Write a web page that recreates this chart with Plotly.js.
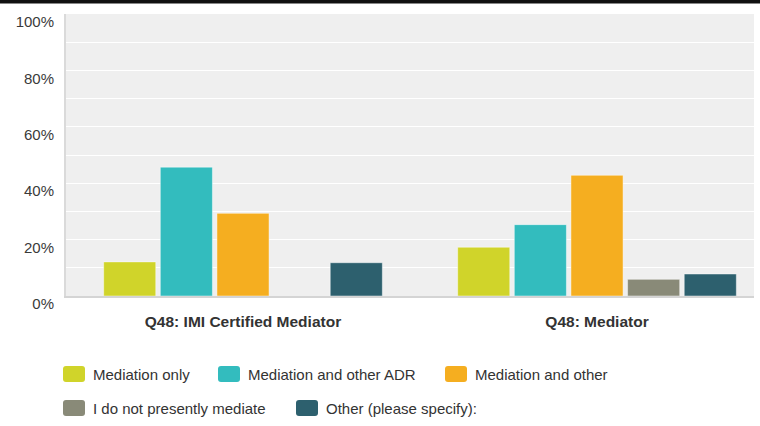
<!DOCTYPE html>
<html>
<head>
<meta charset="utf-8">
<script src="https://cdn.plot.ly/plotly-3.0.1.min.js"></script>
<style>
  html, body { margin: 0; padding: 0; background: #ffffff; }
  #chart { width: 760px; height: 426px; }
</style>
</head>
<body>
<div id="chart"></div>
<script>
// ---- Data ----
const categories = ["Q48: IMI Certified Mediator", "Q48: Mediator"];
const seriesNames = [
  "Mediation only",
  "Mediation and other ADR",
  "Mediation and other",
  "I do not presently mediate",
  "Other (please specify):"
];
const mediationOnly = [12.1, 17.3];
const mediationAndOtherADR = [45.7, 25.3];
const mediationAndOther = [29.3, 42.8];
const doNotPresentlyMediate = [null, 5.9];
const otherPleaseSpecify = [11.8, 7.8];
const seriesValues = [mediationOnly, mediationAndOtherADR, mediationAndOther, doNotPresentlyMediate, otherPleaseSpecify];
const seriesColors = ["#D0D42A", "#33BCBE", "#F5AE20", "#898A78", "#2D606E"];
const yTickValues = [0, 10, 20, 30, 40, 50, 60, 70, 80, 90, 100];
const yTickLabels = ["0%", "", "20%", "", "40%", "", "60%", "", "80%", "", "100%"];

// ---- Geometry (pixels) ----
const W = 760, H = 426;
const M = { l: 66, r: 6, t: 14, b: 130 };
const PW = W - M.l - M.r, PH = H - M.t - M.b;
const px2x = p => (p - M.l) / PW;
const py2y = p => (H - M.b - p) / PH;

const FONT = "Liberation Sans, Arial, Helvetica, sans-serif";

const traces = seriesNames.map((name, i) => ({
  type: "bar",
  name: name,
  x: categories,
  y: seriesValues[i],
  marker: { color: seriesColors[i], line: { color: "rgba(255,255,255,0.45)", width: 1 } },
  hoverinfo: "name+y",
  showlegend: false
}));

// ---- Custom legend (swatches + labels) ----
const legendSlots = [
  { left: 63, cy: 374 }, { left: 218, cy: 374 }, { left: 445, cy: 374 },
  { left: 63, cy: 408 }, { left: 296, cy: 408 }
];
const shapes = [];
const annotations = [];
function roundedBoxPath(x0p, y0p, wp, hp, r) {
  const X = p => px2x(p), Y = p => py2y(p);
  const x1p = x0p + wp, y1p = y0p + hp;
  return `M${X(x0p + r)},${Y(y0p)} L${X(x1p - r)},${Y(y0p)} Q${X(x1p)},${Y(y0p)} ${X(x1p)},${Y(y0p + r)} ` +
         `L${X(x1p)},${Y(y1p - r)} Q${X(x1p)},${Y(y1p)} ${X(x1p - r)},${Y(y1p)} ` +
         `L${X(x0p + r)},${Y(y1p)} Q${X(x0p)},${Y(y1p)} ${X(x0p)},${Y(y1p - r)} ` +
         `L${X(x0p)},${Y(y0p + r)} Q${X(x0p)},${Y(y0p)} ${X(x0p + r)},${Y(y0p)} Z`;
}
seriesNames.forEach((name, i) => {
  const s = legendSlots[i];
  shapes.push({
    type: "path", xref: "paper", yref: "paper",
    path: roundedBoxPath(s.left, s.cy - 8, 22, 16, 3),
    fillcolor: seriesColors[i], line: { width: 0 }, layer: "above"
  });
  annotations.push({
    xref: "paper", yref: "paper", x: px2x(s.left + 28), y: py2y(s.cy),
    xanchor: "left", yanchor: "middle", showarrow: false,
    text: name, font: { family: FONT, size: 15, color: "#333333" }
  });
});

// top dark band
shapes.push({
  type: "rect", xref: "paper", yref: "paper",
  x0: px2x(-5), x1: px2x(W + 5), y0: py2y(3.5), y1: py2y(-5),
  fillcolor: "#111111", line: { width: 0 }, layer: "above"
});

const layout = {
  width: W, height: H,
  margin: M,
  paper_bgcolor: "#ffffff",
  plot_bgcolor: "#EFEFEF",
  barmode: "group",
  bargap: 0.2,
  bargroupgap: 0.08,
  showlegend: false,
  font: { family: FONT, size: 14, color: "#333333" },
  xaxis: {
    type: "category",
    range: [-0.5, 1.4435],
    showgrid: false,
    zeroline: false,
    showline: true, linecolor: "#D4D4D4", linewidth: 2,
    ticks: "",
    tickfont: { family: FONT, size: 15.5, color: "#333333", weight: "bold" },
    ticklabelstandoff: 10
  },
  yaxis: {
    range: [0, 100],
    tickmode: "array",
    tickvals: yTickValues,
    ticktext: yTickLabels,
    showgrid: true, gridcolor: "#ffffff", gridwidth: 1,
    zeroline: false,
    showline: true, linecolor: "#DADADA", linewidth: 2,
    ticks: "",
    ticklabelshift: 8,
    ticklabelstandoff: 7,
    tickfont: { family: FONT, size: 15, color: "#3a3a3a" },
    fixedrange: true
  },
  shapes: shapes,
  annotations: annotations
};

Plotly.newPlot("chart", traces, layout, { displayModeBar: false, staticPlot: true });
</script>
</body>
</html>
